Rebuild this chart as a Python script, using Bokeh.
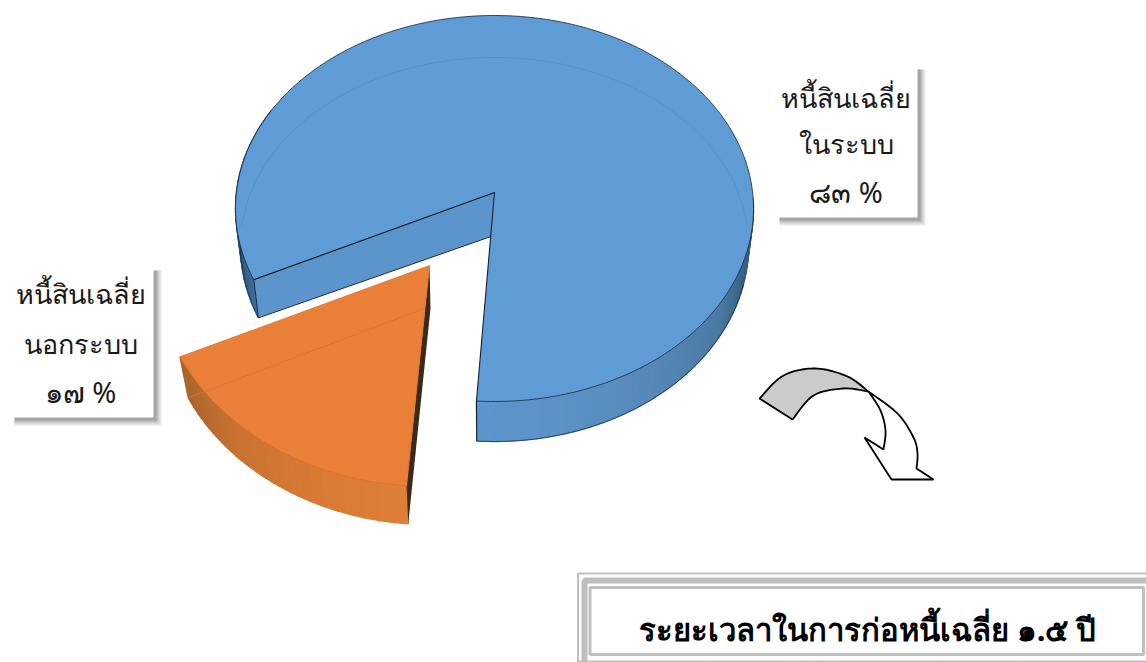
import numpy as np
from bokeh.plotting import figure
from bokeh.embed import file_html
from bokeh.resources import INLINE
from bokeh.core.properties import value

# ---- data
categories = ["ในระบบ", "นอกระบบ"]
shares = [83, 17]
label_head = "หนี้สินเฉลี่ย"
share_text = ["๘๓ %", "๑๗ %"]
title_text = "ระยะเวลาในการก่อหนี้เฉลี่ย ๑.๕ ปี"

FONT = value("Noto Sans")
start_deg = 4.4
gap_end = start_deg + 360 * shares[1] / sum(shares)
blue_end = 360 + start_deg - 0.6
o_start = start_deg + 0.4

p = figure(width=1146, height=662, x_range=(0, 1146), y_range=(662, 0),
           output_backend="svg", toolbar_location=None, min_border=0,
           outline_line_color=None, background_fill_color="white", border_fill_color="white")
p.xaxis.visible = False
p.yaxis.visible = False
p.grid.visible = False


def warp(a):
    return a + 3.0 * np.sin(np.radians(a))


def rim(cx, cy, rx, ry, deg, warped=True):
    deg = np.asarray(deg, dtype=float)
    a = np.radians(warp(deg) if warped else deg)
    return cx - rx * np.sin(a), cy + ry * np.cos(a)


def mix(stops, t):
    xs = [s[0] for s in stops]
    ch = [np.interp(t, xs, [int(s[1][i:i + 2], 16) for s in stops]) for i in (1, 3, 5)]
    return "#%02x%02x%02x" % tuple(int(round(c)) for c in ch)


def strips(deg, top, low, stops, warped=True):
    x0, y0 = rim(*top, deg, warped)
    x1, y1 = rim(*low, deg, warped)
    xs, ys, cs = [], [], []
    for i in range(len(deg) - 1):
        xs.append([x0[i], x0[i + 1], x1[i + 1], x1[i]])
        ys.append([y0[i], y0[i + 1], y1[i + 1], y1[i]])
        cs.append(mix(stops, 0.5 * (deg[i] + deg[i + 1])))
    p.patches(xs, ys, fill_color=cs, line_color=cs, line_width=1.4)


def smooth(pts, n=14):
    P = np.array([pts[0]] + list(pts) + [pts[-1]], dtype=float)
    out = []
    for i in range(1, len(P) - 2):
        for t in np.linspace(0, 1, n, endpoint=False):
            out.append(0.5 * (2 * P[i] + (P[i + 1] - P[i - 1]) * t
                              + (2 * P[i - 1] - 5 * P[i] + 4 * P[i + 1] - P[i + 2]) * t ** 2
                              + (3 * P[i] - P[i - 1] - 3 * P[i + 1] + P[i + 2]) * t ** 3))
    out.append(P[-2])
    return np.array(out)


# ---- blue slice
B_V = (494, 192)
B_TOP = (494, 208, 259, 193)
B_LOW = (494, 245, 254, 196)
B_CUT_LOW = (490.5, 236)

strips(np.linspace(gap_end, 118, 24), B_TOP, B_LOW,
       [(gap_end, "#41709c"), (80, "#2e5274"), (100, "#223e5c"), (118, "#223e5c")])
strips(np.linspace(270, blue_end, 50), B_TOP, B_LOW,
       [(270, "#2a4a68"), (290, "#3b6488"), (303, "#4c7aa4"), (325, "#5688b8"), (345, "#5c92c6"),
        (365, "#5c95cc")])
for d0, d1 in [(gap_end, 100), (284, blue_end)]:
    lx, ly = rim(*B_LOW, np.linspace(d0, d1, 60))
    p.line(lx, ly, line_color="#1f3044", line_width=1, line_alpha=0.8)

deg = np.linspace(gap_end, blue_end, 300)
tx, ty = rim(*B_TOP, deg)
p.patch(np.r_[B_V[0], tx], np.r_[B_V[1], ty], fill_color="#5f9cd6", line_color=None)

# cut face
ex, ey = rim(*B_TOP, gap_end)
fx, fy = rim(*B_LOW, gap_end)
p.patch([ex, B_V[0], B_CUT_LOW[0], fx], [ey, B_V[1], B_CUT_LOW[1], fy], fill_color="#5c95cc", line_color=None)
p.line([fx, B_CUT_LOW[0]], [fy, B_CUT_LOW[1]], line_color="#1c2c3e", line_width=1)
p.line([ex, fx], [ey, fy], line_color="#1c2c3e", line_width=1)
p.line([ex, B_V[0]], [ey, B_V[1]], line_color="#0c1620", line_width=1.1)

# faint back rim seen through the top
fd = np.linspace(96, 264, 160)
fa = np.radians(fd)
p.line(B_LOW[0] - B_LOW[2] * np.sin(fa), B_LOW[1] + 188 * np.cos(fa), line_color="#5790c8", line_width=1)

# rim and inner edge
p.line(tx, ty, line_color="#1f2f42", line_width=1, line_alpha=0.85)
sx, sy = rim(*B_TOP, blue_end)
lx, ly = rim(*B_LOW, blue_end)
p.line([B_V[0], sx, lx], [B_V[1], sy, ly], line_color="#14202c", line_width=1.1)

# ---- orange slice
O_V = (429, 265)
O_TOP = (429, 265, 274, 221)
O_LOW = (430, 308, 266, 216)
od = np.linspace(o_start, gap_end, 40)
strips(od, O_TOP, O_LOW,
       [(o_start, "#df7f36"), (25, "#d87a34"), (45, "#ca7332"), (gap_end, "#a8642c")], warped=False)
ux, uy = rim(*O_TOP, o_start, warped=False)
dx, dy = rim(*O_LOW, o_start, warped=False)
ox, oy = rim(*O_TOP, od, warped=False)
lox, loy = rim(*O_LOW, od, warped=False)
p.patch([O_V[0], ux, dx, O_LOW[0]], [O_V[1], uy, dy, O_LOW[1]], fill_color="#3c2a18", line_color=None)
p.patch(np.r_[O_V[0], ox], np.r_[O_V[1], oy], fill_color="#ea8038", line_color="#d9742c", line_width=0.8)
p.line([O_LOW[0] - 6, lox[-1]], [O_LOW[1], loy[-1]], line_color="#dd7632", line_width=1)

# ---- arrow
outer = smooth([(759, 398), (783, 375), (815, 368), (847, 376), (868, 391)])
inner = smooth([(868, 391), (843, 388), (813, 395), (792, 419)])
p.patch(np.r_[outer[:, 0], inner[:, 0]], np.r_[outer[:, 1], inner[:, 1]],
        fill_color="#cbcbcb", line_color="black", line_width=1.8)
outer2 = smooth([(868, 391), (897, 413), (913, 437), (917, 453), (916, 468)])
inner2 = smooth([(883, 449), (885, 430), (880, 410), (868, 391)])
hx = np.r_[outer2[:, 0], 933, 891, 864, inner2[:, 0]]
hy = np.r_[outer2[:, 1], 479, 479, 437, inner2[:, 1]]
p.patch(hx, hy, fill_color="white", line_color="black", line_width=1.8)


# ---- label boxes
def label_box(x0, x1, y0, y1, lines, xc, yc):
    for off, al in [(9, .03), (8, .05), (7, .07), (6, .08), (5, .1), (4, .12), (3, .14)]:
        p.quad(left=x0 + 5, right=x1 + off, top=y0 + 5, bottom=y1 + off,
               fill_color="#404040", fill_alpha=al, line_color=None)
    p.quad(left=x0, right=x1, top=y0, bottom=y1, fill_color="white", line_color=None)
    p.text(x=[xc] * 2, y=yc[:2], text=lines[:2], text_font=FONT, text_font_size="27px", text_color="#1a1a1a",
           text_align="center", text_baseline="middle")
    p.text(x=[xc], y=yc[2:], text=lines[2:], text_font=FONT, text_font_size="29px", text_color="#1a1a1a",
           text_align="center", text_baseline="middle")


label_box(774, 917, 64, 217, [label_head, categories[0], share_text[0]], 845.5, [97, 143, 191])
label_box(9, 153, 265, 417, [label_head, categories[1], share_text[1]], 80, [293, 343, 391])

# ---- title box
GR = "#bfbfbf"
for x0, x1, y0, y1, w in [(577.5, 1160, 573, 661, 2), (584, 1160, 580, 680, 6), (589.5, 1143, 587, 654, 3)]:
    p.quad(left=x0, right=x1, top=y0, bottom=y1, fill_color=None, line_color=GR, line_width=w)
p.text(x=[867], y=[628], text=[title_text], text_font=FONT, text_font_size="31px", text_font_style="bold",
       text_color="black", text_align="center", text_baseline="middle")

open("out.html", "w").write(file_html(p, INLINE))
